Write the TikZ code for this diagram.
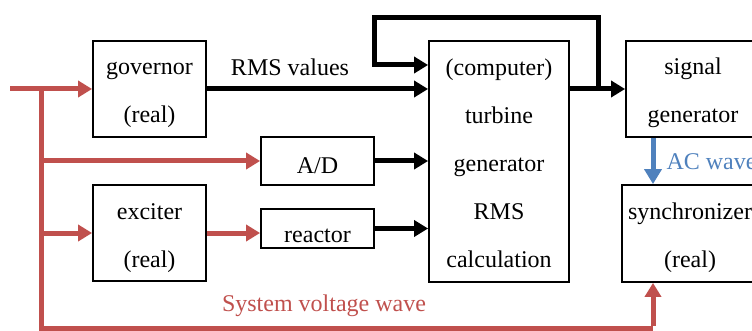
\documentclass[tikz,border=0pt]{standalone}
\usepackage{fontspec}
\setmainfont{Liberation Serif}
\usetikzlibrary{positioning, calc, arrows.meta}
\definecolor{wavered}{RGB}{192,80,77}
\definecolor{acblue}{RGB}{79,129,189}
\newcommand{\upstrut}[1][26pt]{\rule{0pt}{#1}}
\newcommand{\dnstrut}{\rule[-6pt]{0pt}{0pt}}
\tikzset{
    block/.style={draw, line width=1.8pt, rectangle, align=center, inner sep=0pt,
        font=\fontsize{24}{48}\selectfont},
    sig/.style={line width=5pt, -{Triangle[length=14pt,width=16pt]}},
    wave/.style={wavered, line width=5pt, -{Triangle[length=14pt,width=16pt]}},
    wavebus/.style={wavered, line width=5pt},
    acwave/.style={acblue, line width=5pt, -{Triangle[length=15pt,width=17pt]}},
    lbl/.style={font=\fontsize{24}{28}\selectfont}
}

\begin{document}
\begin{tikzpicture}[x=1pt, y=-1pt]
    \useasboundingbox (0,0) rectangle (752,331);
    \clip (0,0) rectangle (752,331);

    % Blocks
    \node[block, minimum width=113pt, minimum height=96pt] (governor) at (149.5,89)
        {\upstrut governor\\(real)\dnstrut};
    \node[block, minimum width=113pt, minimum height=48pt] (ad) at (317.5,161)
        {\upstrut[32pt]A/D\dnstrut};
    \node[block, minimum width=113pt, minimum height=96pt] (exciter) at (149.5,233)
        {\upstrut exciter\\(real)\dnstrut};
    \node[block, minimum width=113pt, minimum height=39pt] (reactor) at (317.5,228.5)
        {\upstrut[33pt]reactor\dnstrut};
    \node[block, minimum width=140pt, minimum height=241pt] (computer) at (499,161.5)
        {\upstrut(computer)\\turbine\\generator\\RMS\\calculation\dnstrut};
    \node[block, minimum width=134pt, minimum height=96pt] (siggen) at (693,89)
        {\upstrut signal\\generator\dnstrut};
    \node[block, minimum width=136pt, minimum height=97pt] (sync) at (690,233.5)
        {\upstrut synchronizer\\(real)\dnstrut};

    % Helper points
    \coordinate (in) at (10,89);
    \coordinate (split) at (41,89);
    \coordinate (tap) at (598,89);
    \coordinate (acx) at (653,0);

    % RMS values into the computer
    \draw[sig] (governor.east) -- (governor.east -| computer.west);
    \node[lbl] (rmslabel) at (290,67) {RMS values};
    \draw[sig] (ad.east) -- (ad.east -| computer.west);
    \draw[sig] (reactor.east) -- (reactor.east -| computer.west);
    \draw[sig] (computer.east |- tap) -- (siggen.west |- tap);
    \draw[sig] (tap) |- (374,18) |- (computer.west |- 0,65);

    % System voltage wave
    \draw[wave] (in) -- (governor.west);
    \draw[wave] (split |- ad.west) -- (ad.west);
    \draw[wave] (split |- exciter.west) -- (exciter.west);
    \draw[wave] (exciter.east) -- (exciter.east -| reactor.west);
    \draw[wavebus] (split) -- (41,328) -- (acx |- 0,328);
    \draw[wave] ([yshift=2.5pt]acx |- 0,328) -- (acx |- sync.south);
    \node[lbl, wavered] (syslabel) at (324,306) {System voltage wave};

    % AC wave
    \draw[acwave] (acx |- siggen.south) -- (acx |- sync.north);
    \node[lbl, acblue, anchor=west] (aclabel) at (663,162) {AC wave};
\end{tikzpicture}
\end{document}
